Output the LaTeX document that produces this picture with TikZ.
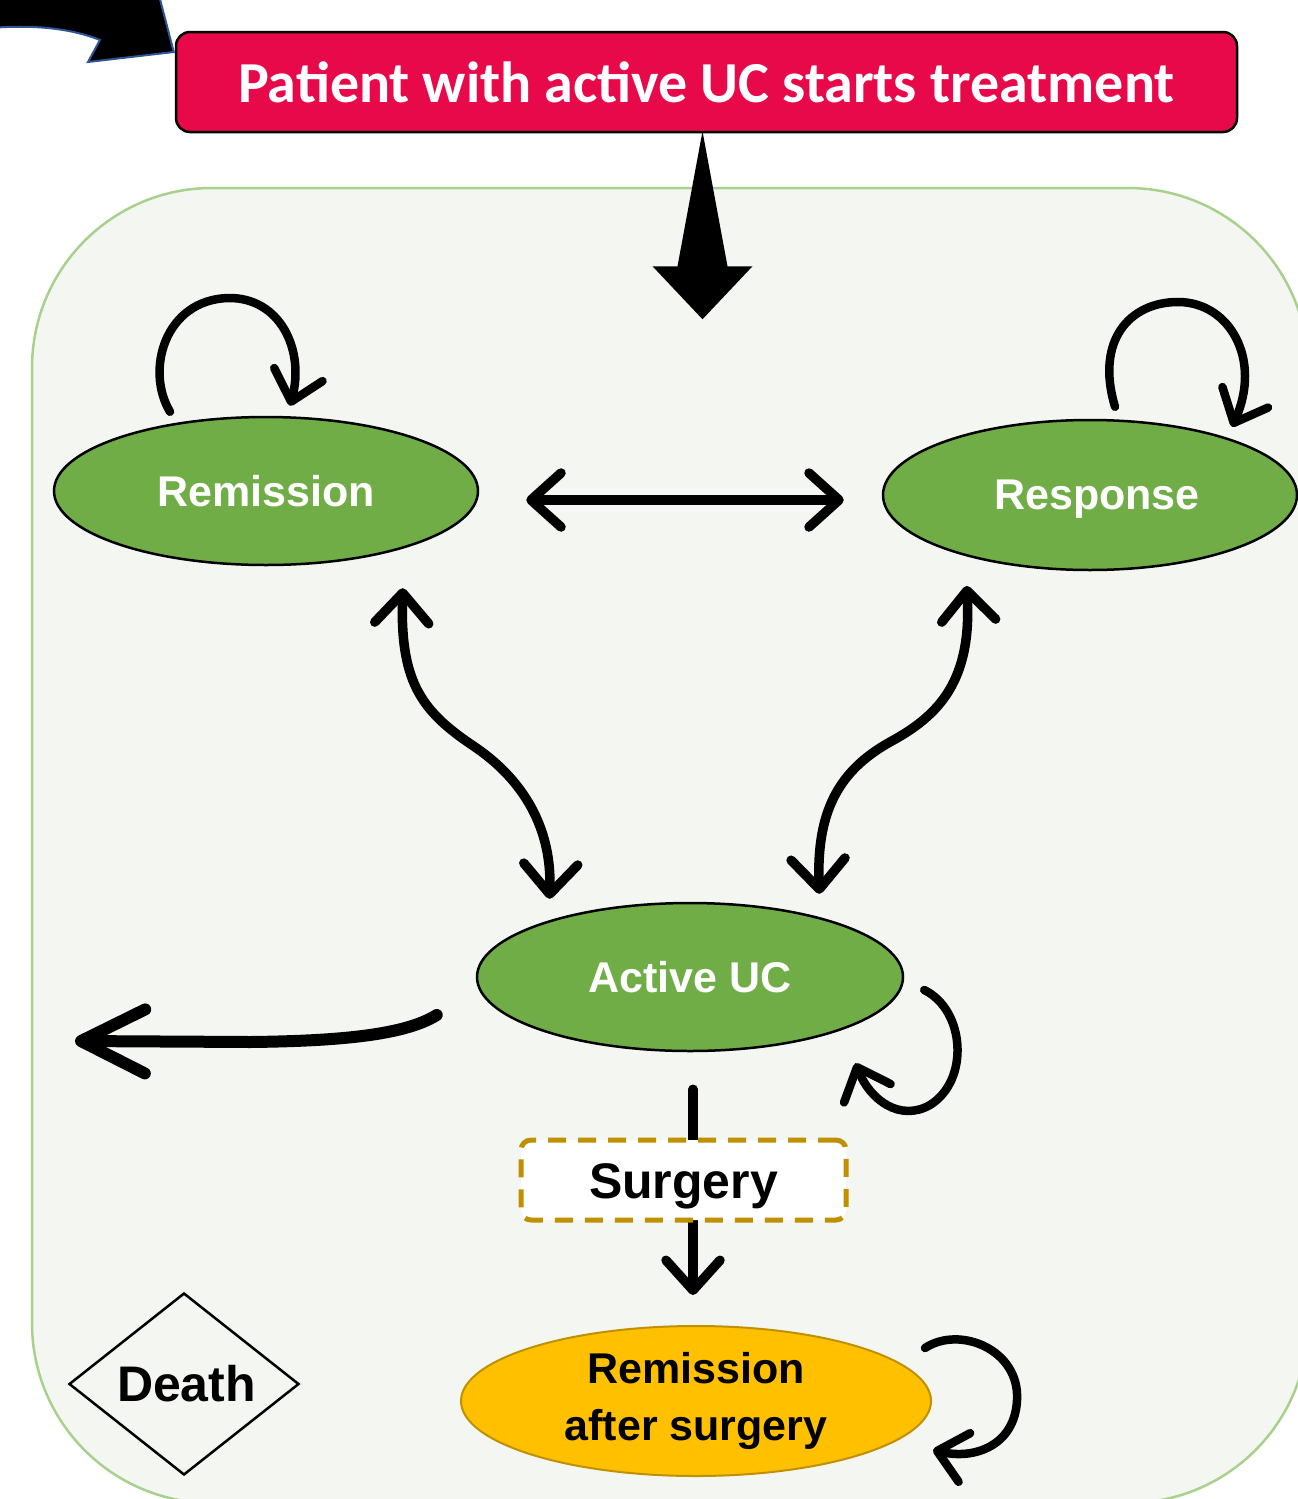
\documentclass[tikz,border=0pt]{standalone}
\usepackage{fontspec}
\setmainfont{Liberation Sans}
\newfontfamily\calib{Carlito}
\usetikzlibrary{arrows.meta,shapes.geometric}
\definecolor{ucred}{RGB}{232,9,74}
\definecolor{ucgreen}{RGB}{112,173,71}
\definecolor{ucyellow}{RGB}{255,192,0}
\definecolor{ucgold}{RGB}{191,144,0}
\definecolor{panelfill}{RGB}{244,246,241}
\definecolor{panelline}{RGB}{169,209,142}
\definecolor{arrowblue}{RGB}{47,85,151}
\begin{document}
\begin{tikzpicture}[x=1pt,y=-1pt,
  >={Straight Barb[length=30pt,width=54pt,round]},
  state/.style={ellipse, draw=black, line width=2.5pt, fill=ucgreen, text=white,
    font=\fontsize{43}{52}\selectfont\bfseries, inner sep=0pt, text depth=0pt},
  conn/.style={line width=9.5pt, line cap=round},
  loopline/.style={line width=8.5pt, line cap=round, -{Straight Barb[length=28pt,width=50pt,round]}},
]
\useasboundingbox (0,0) rectangle (1298,1499);
\clip (0,0) rectangle (1298,1499);
\fill[white] (0,0) rectangle (1298,1499);

% container panel
\draw[fill=panelfill, draw=panelline, line width=2.5pt, rounded corners=180pt] (32,188) rectangle (1308,1503);

% top box
\node[draw=black, line width=2.5pt, fill=ucred, rounded corners=14pt, minimum width=1061pt,
  minimum height=100pt, inner sep=0pt, text=white, font=\calib\fontsize{58}{70}\selectfont\bfseries]
  (top) at (706.5,82) {Patient with active UC starts treatment};

% incoming block arrow (top left)
\filldraw[fill=black, draw=arrowblue, line width=2pt, line join=miter]
  (-10,28) .. controls (40,24) and (75,30) .. (100,40) -- (88,62)
  -- ([shift={(-1,-30)}]top.west) -- (155,-20) -- (-10,-20) -- cycle;

% big down arrow
\fill[black] ([shift={(-4,-2)}]top.south) -- ++(25,135) -- ++(25,0) -- ++(-50,53)
  -- ++(-50,-53) -- ++(25,0) -- cycle;

% states
\node[state, minimum width=424pt, minimum height=148pt] (rem) at (266,491) {Remission};
\node[state, minimum width=414pt, minimum height=150pt] (resp) at (1090,495) {\hspace*{14pt}Response};
\node[state, minimum width=426pt, minimum height=148pt] (act) at (690,977) {Active UC};
\node[ellipse, draw=ucgold, line width=2pt, fill=ucyellow, minimum width=470pt, minimum height=150pt,
  inner sep=0pt, align=center, font=\fontsize{43}{57}\selectfont\bfseries]
  (ras) at (696,1401) {Remission\\after surgery};
\node[diamond, draw=black, line width=2.5pt, minimum width=230pt, minimum height=182pt, inner sep=0pt,
  font=\fontsize{50}{60}\selectfont\bfseries] (death) at (184,1384) {\hspace*{5pt}Death};

% connectors
\draw[conn, <->] ([shift={(47,9)}]rem.east) -- ([shift={(-38,5)}]resp.west);
\draw[conn, <->] ([shift={(-14,44)}]rem.south east) .. controls (400,680) and (420,710) .. (472,745)
  .. controls (525,780) and (552,830) .. ([shift={(11,-25)}]act.north west);
\draw[conn, <->] ([shift={(24,37)}]resp.south west) .. controls (972,680) and (940,715) .. (890,742)
  .. controls (840,770) and (816,810) .. ([shift={(-22,-30)}]act.north east);

\coordinate (exitL) at (75,1041);
\draw[conn, line width=12pt, -{Straight Barb[length=64pt,width=64pt,round]}]
  ([shift={(-39,38)}]act.west) .. controls (405,1035) and (340,1041) .. (250,1042) -- (exitL);

% self loops
\draw[loopline] ([shift={(-96,-4)}]rem.north) .. controls (145,370) and (165,300) .. (228,298)
  .. controls (280,297) and (305,350) .. ([shift={(24,-10)}]rem.north);
\draw[loopline] ([shift={(25,-12)}]resp.north) .. controls (1095,340) and (1130,302) .. (1178,302)
  .. controls (1230,302) and (1262,360) .. ([shift={(142,8)}]resp.north);
\draw[loopline] ([shift={(20,13)}]act.east) .. controls (965,1010) and (970,1080) .. (930,1105)
  .. controls (900,1122) and (870,1100) .. ([shift={(14,33)}]act.south east);
\draw[loopline] ([shift={(-7,-53)}]ras.east) .. controls (960,1325) and (1020,1350) .. (1017,1400)
  .. controls (1015,1445) and (975,1460) .. ([shift={(1,49)}]ras.east);

% surgery path
\draw[conn, ->] ([shift={(3,37)}]act.south) -- ([shift={(-3,-30)}]ras.north);
\node[draw=ucgold, dash pattern=on 18pt off 12pt, line width=5pt, fill=white, rounded corners=10pt,
  minimum width=325pt, minimum height=80pt, inner sep=0pt, text height=36pt, text depth=0pt,
  font=\fontsize{50}{60}\selectfont\bfseries]
  (surg) at (683.5,1180) {Surgery};
\end{tikzpicture}
\end{document}
